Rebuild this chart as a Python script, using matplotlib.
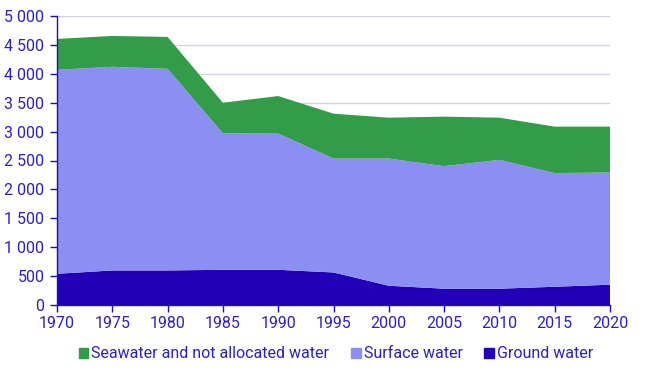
import matplotlib
matplotlib.use("Agg")
import matplotlib.pyplot as plt
from matplotlib.patches import Patch
from matplotlib.ticker import FuncFormatter
import numpy as np

years = [1970, 1975, 1980, 1985, 1990, 1995, 2000, 2005, 2010, 2015, 2020]
ground = [540, 598, 598, 609, 609, 563, 333, 282, 282, 316, 351]
surface = [3529, 3523, 3488, 2362, 2357, 1971, 2201, 2120, 2229, 1966, 1942]
seawater = [534, 534, 552, 529, 649, 776, 707, 857, 730, 804, 793]

labels = ["Seawater and not allocated water", "Surface water", "Ground water"]
c_sea = "#339c48"
c_surf = "#8b8ff2"
c_ground = "#2200b8"
txt = "#2a1fd0"

plt.rcParams["font.family"] = ["Roboto", "DejaVu Sans"]

fig = plt.figure(figsize=(6.49, 3.73), dpi=100)
ax = fig.add_axes([57/649, 68/373, (610-57)/649, (305-16)/373])

ax.stackplot(years, ground, surface, seawater,
             colors=[c_ground, c_surf, c_sea], linewidth=0, zorder=2)

ax.set_xlim(1970, 2020)
ax.set_ylim(0, 5000)
ax.set_xticks(years)
ax.set_yticks(np.arange(0, 5001, 500))
ax.yaxis.set_major_formatter(FuncFormatter(lambda v, p: f"{int(v):,}".replace(",", " ")))
ax.grid(axis="y", color="#d3cfec", linewidth=1, zorder=1)
ax.set_axisbelow(True)

for s in ["top", "right"]:
    ax.spines[s].set_visible(False)
for s in ["left", "bottom"]:
    ax.spines[s].set_color("#1a0fb0")
    ax.spines[s].set_linewidth(1)
    ax.spines[s].set_zorder(3)

ax.tick_params(axis="both", colors="#1a0fb0", labelcolor=txt, labelsize=11.5, length=5, width=1)
ax.tick_params(axis="x", pad=3)
ax.tick_params(axis="y", pad=4)

handles = [Patch(color=c_sea), Patch(color=c_surf), Patch(color=c_ground)]
leg = fig.legend(handles, labels, loc="center", bbox_to_anchor=(336/649, 19/373), ncol=3,
                 frameon=False, fontsize=11.5, handlelength=0.6, handleheight=0.6,
                 handletextpad=0.2, columnspacing=1.35)
for t in leg.get_texts():
    t.set_color(txt)

fig.savefig("out.png", dpi=100)
